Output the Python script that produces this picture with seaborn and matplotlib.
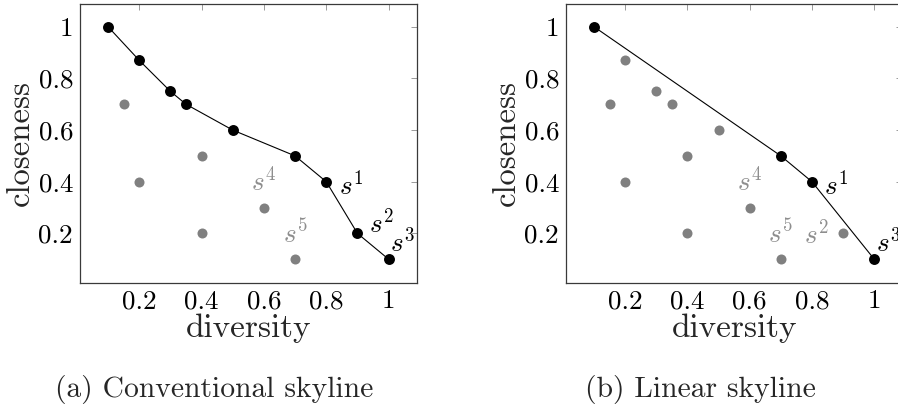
import matplotlib
matplotlib.use("Agg")
import matplotlib.pyplot as plt
import seaborn as sns
import pandas as pd

# Candidate solutions: (diversity, closeness)
diversity = [0.1, 0.2, 0.3, 0.35, 0.5, 0.7, 0.8, 0.9, 1.0, 0.15, 0.2, 0.4, 0.4, 0.6, 0.7]
closeness = [1.0, 0.87, 0.75, 0.7, 0.6, 0.5, 0.4, 0.2, 0.1, 0.7, 0.4, 0.5, 0.2, 0.3, 0.1]

# Skyline membership of each point
conventional = [True, True, True, True, True, True, True, True, True,
                False, False, False, False, False, False]
linear = [True, False, False, False, False, True, True, False, True,
          False, False, False, False, False, False]

# Named points: label -> index
named = {"$s^1$": 6, "$s^2$": 7, "$s^3$": 8, "$s^4$": 13, "$s^5$": 14}

ticks = [0.2, 0.4, 0.6, 0.8, 1.0]
tick_labels = ["0.2", "0.4", "0.6", "0.8", "1"]
captions = ["(a) Conventional skyline", "(b) Linear skyline"]

sns.set_theme(style="white")
plt.rcParams.update({
    "font.family": ["cmr10"],
    "mathtext.fontset": "cm",
    "axes.formatter.use_mathtext": True,
    "axes.unicode_minus": False,
})

df = pd.DataFrame({"diversity": diversity, "closeness": closeness,
                   "conventional": conventional, "linear": linear})

BLACK = "#000000"
GRAY = "#808080"
LABEL_GRAY = "#8e8e8e"

W, H = 898, 404
fig = plt.figure(figsize=(W / 100, H / 100), dpi=100)
ax_a = fig.add_axes([80 / W, (H - 282.5) / H, 336.7 / W, 279 / H])
ax_b = fig.add_axes([566 / W, (H - 282.5) / H, 336.3 / W, 279 / H])

# label placements, offsets in points
PLACE = {
    "right": dict(xytext=(9.0, -2.0), ha="left", va="center"),
    "right base": dict(xytext=(8.5, 0.5), ha="left", va="baseline"),
    "left": dict(xytext=(-10.5, 0.0), ha="right", va="center"),
    "above": dict(xytext=(0, 12), ha="center", va="baseline"),
    "above right": dict(xytext=(1.0, 5.2), ha="left", va="baseline"),
}


def draw(ax, flag, placement):
    on = df[df[flag]].sort_values("diversity")
    off = df[~df[flag]]
    sns.scatterplot(data=off, x="diversity", y="closeness", ax=ax, color=GRAY,
                    s=52, linewidth=0, zorder=3, legend=False)
    sns.lineplot(data=on, x="diversity", y="closeness", ax=ax, sort=False,
                 color=BLACK, linewidth=0.8, zorder=2, estimator=None)
    sns.scatterplot(data=on, x="diversity", y="closeness", ax=ax, color=BLACK,
                    s=62, linewidth=0, zorder=4, legend=False)

    for lab, idx in named.items():
        x, y = diversity[idx], closeness[idx]
        color = BLACK if df[flag][idx] else LABEL_GRAY
        ax.annotate(lab, (x, y), textcoords="offset points", fontsize=19.5,
                    color=color, zorder=5, annotation_clip=False,
                    **PLACE[placement[lab]])

    ax.set_xlim(0.01, 1.09)
    ax.set_ylim(0.01, 1.09)
    ax.set_xticks(ticks)
    ax.set_xticklabels(tick_labels)
    ax.set_yticks(ticks)
    ax.set_yticklabels(tick_labels)
    ax.tick_params(direction="in", length=4.5, width=0.6, color="#8a8a8a",
                   labelsize=19.5, top=True, right=True, pad=5, labelcolor=BLACK)
    for sp in ax.spines.values():
        sp.set_color("#3a3a3a")
        sp.set_linewidth(0.9)
    ax.set_xlabel("diversity", fontsize=24, labelpad=0)
    ax.set_ylabel("closeness", fontsize=23.5, labelpad=0)


draw(ax_a, "conventional",
     {"$s^1$": "right", "$s^2$": "right base", "$s^3$": "above right",
      "$s^4$": "above", "$s^5$": "above"})
draw(ax_b, "linear",
     {"$s^1$": "right", "$s^2$": "left", "$s^3$": "above right",
      "$s^4$": "above", "$s^5$": "above"})

for ax in (ax_a, ax_b):
    ax.xaxis.set_label_coords(0.5, -0.11)
    ax.yaxis.set_label_coords(-0.135, 0.5)

fig.text(214 / W, 1 - 389 / H, captions[0], ha="center", va="center", fontsize=21.3)
fig.text(700 / W, 1 - 389 / H, captions[1], ha="center", va="center", fontsize=21.3)

fig.savefig("out.png", dpi=100)
